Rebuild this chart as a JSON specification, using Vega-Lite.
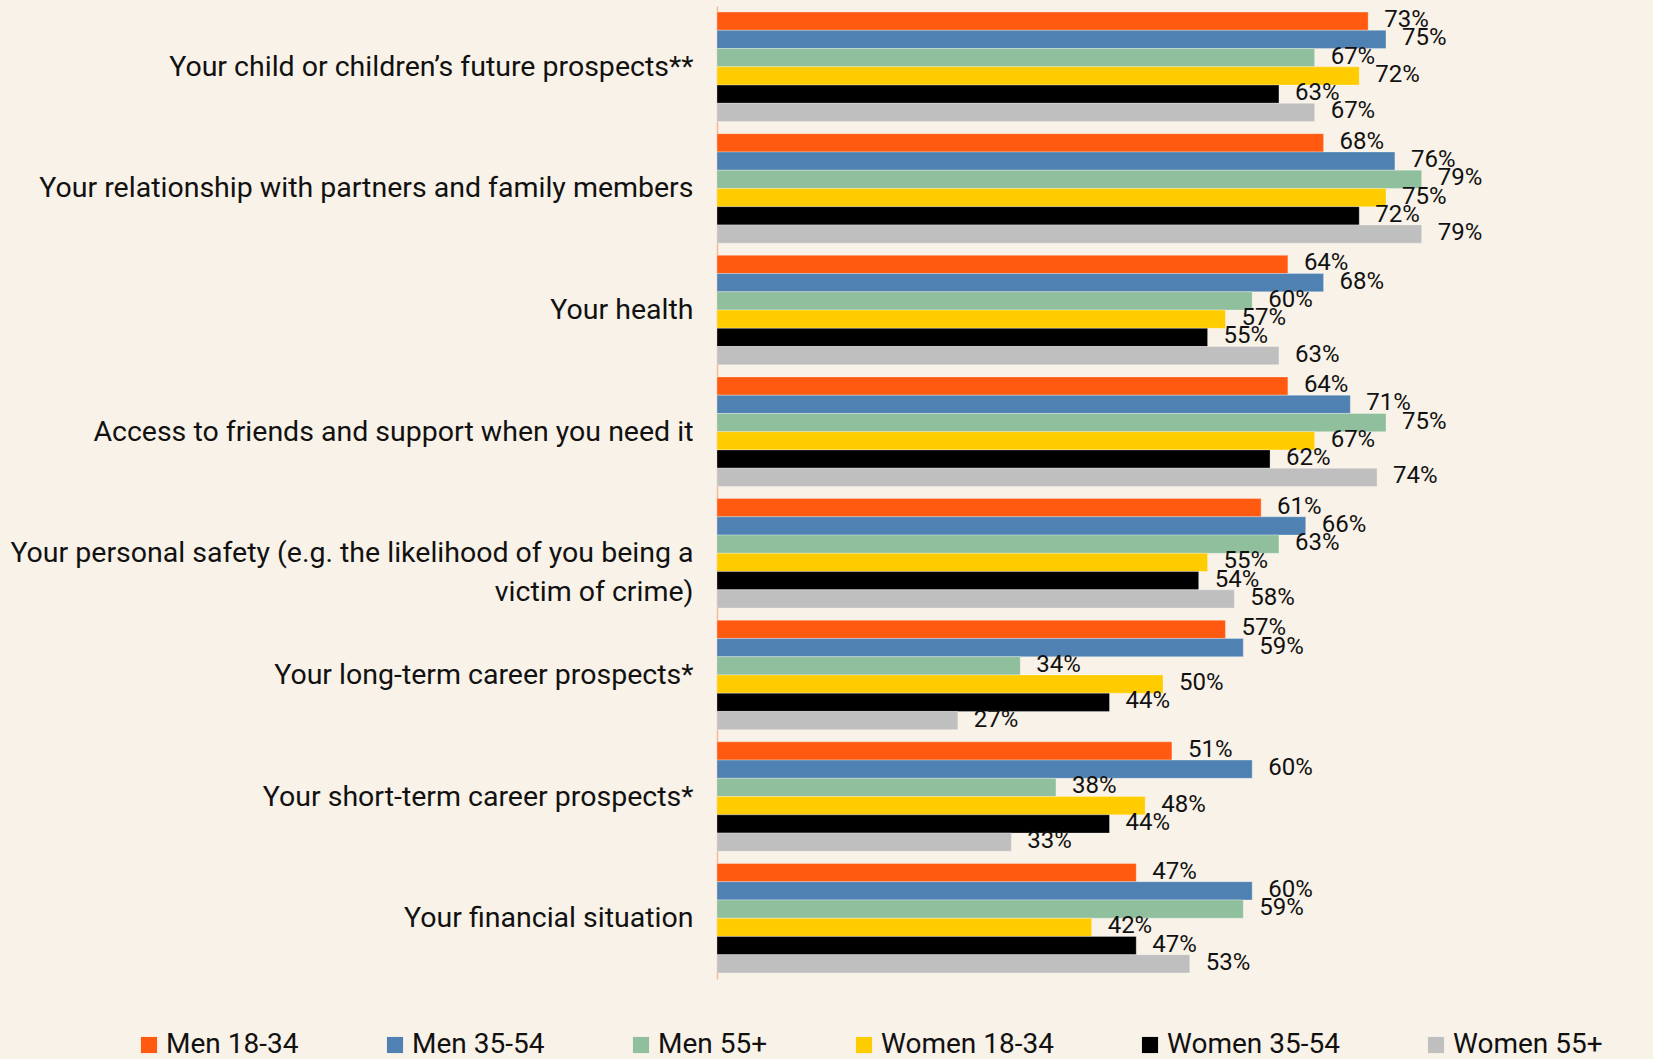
{
  "$schema": "https://vega.github.io/schema/vega-lite/v6.json",
  "width": 892,
  "height": 973,
  "autosize": "none",
  "padding": {"left": 717, "top": 6, "right": 44, "bottom": 80},
  "background": "#F9F2E8",
  "config": {"view": {"stroke": null}, "font": "Roboto"},
  "data": {
    "values": [
      {"item": "Your child or children’s future prospects**", "group": "Men 18-34", "value": 0.73},
      {"item": "Your child or children’s future prospects**", "group": "Men 35-54", "value": 0.75},
      {"item": "Your child or children’s future prospects**", "group": "Men 55+", "value": 0.67},
      {"item": "Your child or children’s future prospects**", "group": "Women 18-34", "value": 0.72},
      {"item": "Your child or children’s future prospects**", "group": "Women 35-54", "value": 0.63},
      {"item": "Your child or children’s future prospects**", "group": "Women 55+", "value": 0.67},
      {"item": "Your relationship with partners and family members", "group": "Men 18-34", "value": 0.68},
      {"item": "Your relationship with partners and family members", "group": "Men 35-54", "value": 0.76},
      {"item": "Your relationship with partners and family members", "group": "Men 55+", "value": 0.79},
      {"item": "Your relationship with partners and family members", "group": "Women 18-34", "value": 0.75},
      {"item": "Your relationship with partners and family members", "group": "Women 35-54", "value": 0.72},
      {"item": "Your relationship with partners and family members", "group": "Women 55+", "value": 0.79},
      {"item": "Your health", "group": "Men 18-34", "value": 0.64},
      {"item": "Your health", "group": "Men 35-54", "value": 0.68},
      {"item": "Your health", "group": "Men 55+", "value": 0.60},
      {"item": "Your health", "group": "Women 18-34", "value": 0.57},
      {"item": "Your health", "group": "Women 35-54", "value": 0.55},
      {"item": "Your health", "group": "Women 55+", "value": 0.63},
      {"item": "Access to friends and support when you need it", "group": "Men 18-34", "value": 0.64},
      {"item": "Access to friends and support when you need it", "group": "Men 35-54", "value": 0.71},
      {"item": "Access to friends and support when you need it", "group": "Men 55+", "value": 0.75},
      {"item": "Access to friends and support when you need it", "group": "Women 18-34", "value": 0.67},
      {"item": "Access to friends and support when you need it", "group": "Women 35-54", "value": 0.62},
      {"item": "Access to friends and support when you need it", "group": "Women 55+", "value": 0.74},
      {"item": "Your personal safety (e.g. the likelihood of you being a|victim of crime)", "group": "Men 18-34", "value": 0.61},
      {"item": "Your personal safety (e.g. the likelihood of you being a|victim of crime)", "group": "Men 35-54", "value": 0.66},
      {"item": "Your personal safety (e.g. the likelihood of you being a|victim of crime)", "group": "Men 55+", "value": 0.63},
      {"item": "Your personal safety (e.g. the likelihood of you being a|victim of crime)", "group": "Women 18-34", "value": 0.55},
      {"item": "Your personal safety (e.g. the likelihood of you being a|victim of crime)", "group": "Women 35-54", "value": 0.54},
      {"item": "Your personal safety (e.g. the likelihood of you being a|victim of crime)", "group": "Women 55+", "value": 0.58},
      {"item": "Your long-term career prospects*", "group": "Men 18-34", "value": 0.57},
      {"item": "Your long-term career prospects*", "group": "Men 35-54", "value": 0.59},
      {"item": "Your long-term career prospects*", "group": "Men 55+", "value": 0.34},
      {"item": "Your long-term career prospects*", "group": "Women 18-34", "value": 0.50},
      {"item": "Your long-term career prospects*", "group": "Women 35-54", "value": 0.44},
      {"item": "Your long-term career prospects*", "group": "Women 55+", "value": 0.27},
      {"item": "Your short-term career prospects*", "group": "Men 18-34", "value": 0.51},
      {"item": "Your short-term career prospects*", "group": "Men 35-54", "value": 0.60},
      {"item": "Your short-term career prospects*", "group": "Men 55+", "value": 0.38},
      {"item": "Your short-term career prospects*", "group": "Women 18-34", "value": 0.48},
      {"item": "Your short-term career prospects*", "group": "Women 35-54", "value": 0.44},
      {"item": "Your short-term career prospects*", "group": "Women 55+", "value": 0.33},
      {"item": "Your financial situation", "group": "Men 18-34", "value": 0.47},
      {"item": "Your financial situation", "group": "Men 35-54", "value": 0.60},
      {"item": "Your financial situation", "group": "Men 55+", "value": 0.59},
      {"item": "Your financial situation", "group": "Women 18-34", "value": 0.42},
      {"item": "Your financial situation", "group": "Women 35-54", "value": 0.47},
      {"item": "Your financial situation", "group": "Women 55+", "value": 0.53}
    ]
  },
  "encoding": {
    "y": {
      "field": "item",
      "type": "nominal",
      "sort": null,
      "title": null,
      "scale": {"paddingInner": 0.1, "paddingOuter": 0.05},
      "axis": {
        "ticks": false,
        "domainColor": "#F5B79A",
        "domainWidth": 1.5,
        "labelFont": "Roboto",
        "labelFontSize": 28.5,
        "labelColor": "#111111",
        "labelPadding": 24,
        "labelLimit": 0,
        "labelLineHeight": 39,
        "labelExpr": "split(datum.label, '|')"
      }
    },
    "yOffset": {
      "field": "group",
      "type": "nominal",
      "sort": ["Men 18-34", "Men 35-54", "Men 55+", "Women 18-34", "Women 35-54", "Women 55+"],
      "scale": {"paddingInner": 0, "paddingOuter": 0}
    },
    "x": {
      "field": "value",
      "type": "quantitative",
      "scale": {"domain": [0, 1]},
      "axis": null
    }
  },
  "layer": [
    {
      "mark": {"type": "bar", "stroke": "#FFFFFF", "strokeOpacity": 0.5, "strokeWidth": 0.6},
      "encoding": {
        "color": {
          "field": "group",
          "type": "nominal",
          "title": null,
          "scale": {
            "domain": ["Men 18-34", "Men 35-54", "Men 55+", "Women 18-34", "Women 35-54", "Women 55+"],
            "range": ["#FF5A10", "#4F82B2", "#8FBF9D", "#FFCC00", "#000000", "#BFBFBF"]
          },
          "legend": {
            "orient": "none",
            "legendX": -582,
            "legendY": 1025,
            "direction": "horizontal",
            "columns": 6,
            "columnPadding": 82,
            "symbolType": "square",
            "symbolSize": 260,
            "symbolStrokeWidth": 0,
            "labelFont": "Roboto",
            "labelFontSize": 28,
            "labelColor": "#111111",
            "labelOffset": 3,
            "labelLimit": 0
          }
        }
      }
    },
    {
      "mark": {"type": "text", "align": "left", "baseline": "middle", "dx": 16, "dy": -1, "font": "Roboto", "fontSize": 24, "color": "#111111"},
      "encoding": {
        "text": {"field": "value", "type": "quantitative", "format": ".0%"}
      }
    }
  ]
}
